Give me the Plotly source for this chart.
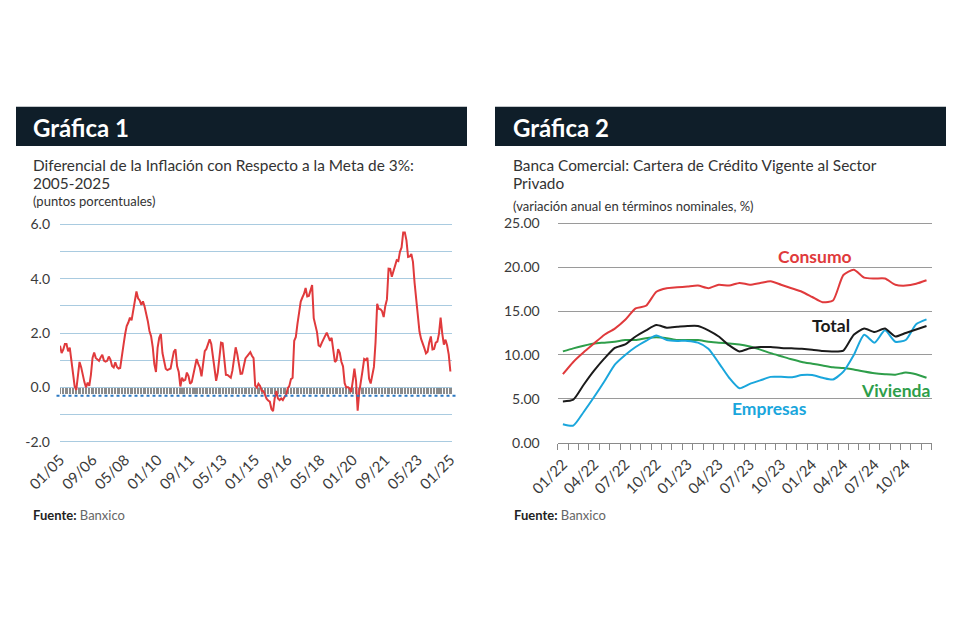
import plotly.graph_objects as go

# ---------------- Data: Gráfica 1 ----------------
# Diferencial de la inflación anual respecto a la meta de 3% (pp), mensual 01/2005 - 01/2025
diferencial = [
    1.54, 1.27, 1.39, 1.60, 1.60, 1.33, 1.47, 0.95, 0.51, 0.05, -0.09, 0.33,   # 2005
    0.94, 0.75, 0.41, 0.20, 0.00, 0.18, 0.06, 0.47, 1.09, 1.29, 1.09, 1.05,    # 2006
    0.98, 1.11, 1.21, 0.99, 0.95, 0.98, 1.14, 1.03, 0.79, 0.74, 0.93, 0.76,    # 2007
    0.70, 0.72, 1.25, 1.55, 1.95, 2.26, 2.39, 2.57, 2.47, 2.78, 3.23, 3.53,    # 2008
    3.28, 3.20, 3.04, 3.17, 2.98, 2.74, 2.44, 2.08, 1.89, 1.50, 0.86, 0.57,    # 2009
    1.46, 1.83, 1.97, 1.27, 0.92, 0.69, 0.64, 0.68, 0.70, 1.02, 1.32, 1.40,    # 2010
    0.78, 0.57, 0.04, 0.36, 0.25, 0.28, 0.55, 0.42, 0.14, 0.20, 0.48, 0.82,    # 2011
    1.05, 0.87, 0.73, 0.41, 0.85, 1.34, 1.42, 1.57, 1.77, 1.60, 1.18, 0.57,    # 2012
    0.25, 0.55, 1.25, 1.65, 1.63, 1.09, 0.47, 0.46, 0.39, 0.36, 0.62, 0.97,    # 2013
    1.48, 1.23, 0.76, 0.50, 0.51, 0.75, 1.07, 1.15, 1.22, 1.30, 1.17, 1.08,    # 2014
    0.07, 0.00, 0.14, 0.06, -0.12, -0.13, -0.26, -0.41, -0.48, -0.52, -0.79, -0.87,  # 2015
    -0.39, -0.13, -0.40, -0.46, -0.40, -0.46, -0.35, -0.27, -0.03, 0.06, 0.31, 0.36,  # 2016
    1.72, 1.86, 2.35, 2.82, 3.16, 3.31, 3.44, 3.66, 3.35, 3.37, 3.63, 3.77,    # 2017
    2.55, 2.34, 2.04, 1.55, 1.51, 1.65, 1.81, 1.90, 2.02, 1.90, 1.72, 1.83,    # 2018
    1.37, 0.94, 1.00, 1.41, 1.28, 0.95, 0.78, 0.16, 0.00, 0.02, -0.03, -0.17,  # 2019
    0.24, 0.70, 0.25, -0.85, -0.16, 0.33, 0.62, 1.05, 1.01, 1.09, 0.33, 0.15,  # 2020
    0.54, 0.76, 1.67, 3.08, 2.89, 2.88, 2.81, 2.59, 3.00, 3.24, 4.37, 4.36,    # 2021
    4.07, 4.28, 4.45, 4.68, 4.65, 4.99, 5.15, 5.70, 5.70, 5.41, 4.80, 4.82,    # 2022
    4.91, 4.62, 3.85, 3.25, 2.84, 2.06, 1.79, 1.64, 1.45, 1.26, 1.32, 1.66,    # 2023
    1.88, 1.40, 1.42, 1.65, 1.69, 1.98, 2.57, 1.99, 1.58, 1.76, 1.55, 1.21,    # 2024
    0.59,                                                                       # 2025
]
meses1 = list(range(len(diferencial)))
ticks1_labels = ["01/05", "09/06", "05/08", "01/10", "09/11", "05/13", "01/15",
                 "09/16", "05/18", "01/20", "09/21", "05/23", "01/25"]
ticks1_pos = [20 * k for k in range(len(ticks1_labels))]
y1_ticks = [-2, -1, 0, 1, 2, 3, 4, 5, 6]
y1_labels = ["-2.0", "", "0.0", "", "2.0", "", "4.0", "", "6.0"]
banda_inferior = -0.22   # franja sombreada bajo el cero
linea_punteada = -0.30   # línea de referencia punteada

# ---------------- Data: Gráfica 2 ----------------
consumo = [7.8, 9.2, 10.3, 11.3, 12.3, 13.0, 14.0, 15.3, 15.6, 17.2, 17.6, 17.7,
           17.8, 17.9, 17.6, 18.0, 17.9, 18.2, 18.0, 18.2, 18.4, 18.0, 17.6, 17.2,
           16.6, 16.0, 16.2, 19.1, 19.7, 18.8, 18.7, 18.7, 18.0, 17.9, 18.1, 18.5]
total = [4.7, 4.9, 6.6, 8.2, 9.6, 10.8, 11.2, 12.1, 12.8, 13.4, 13.1, 13.2,
         13.3, 13.3, 12.8, 12.1, 11.1, 10.4, 10.75, 10.9, 10.9, 10.8, 10.75, 10.7,
         10.6, 10.45, 10.4, 10.5, 12.3, 13.0, 12.6, 13.0, 12.1, 12.5, 12.9, 13.3]
empresas = [2.1, 1.95, 3.5, 5.2, 7.0, 8.9, 10.0, 10.9, 11.6, 12.2, 11.7, 11.6,
            11.6, 11.4, 10.7, 9.1, 7.4, 6.2, 6.7, 7.1, 7.5, 7.5, 7.45, 7.7,
            7.7, 7.4, 7.2, 8.1, 10.0, 12.3, 11.4, 12.8, 11.5, 11.7, 13.5, 14.05]
vivienda = [10.4, 10.75, 11.05, 11.3, 11.4, 11.5, 11.7, 11.7, 11.9, 12.0, 11.9, 11.7,
            11.7, 11.7, 11.5, 11.4, 11.3, 11.2, 10.95, 10.6, 10.2, 9.85, 9.5, 9.2,
            9.0, 8.8, 8.6, 8.5, 8.35, 8.1, 7.9, 7.8, 7.75, 8.0, 7.8, 7.4]
meses2 = list(range(len(consumo)))
ticks2_labels = ["01/22", "04/22", "07/22", "10/22", "01/23", "04/23", "07/23",
                 "10/23", "01/24", "04/24", "07/24", "10/24"]
ticks2_pos = [3 * k for k in range(len(ticks2_labels))]

# ---------------- Styles ----------------
FONT = "Lato"
C_RED = "#e03a3c"
C_BLACK = "#1b1b1b"
C_BLUE = "#1aa6dc"
C_GREEN = "#2e9e4a"
NAVY = "#0f1e29"

fig = go.Figure()

# Gráfica 1
band_x = meses1[::2]
fig.add_trace(go.Bar(x=band_x, y=[banda_inferior] * len(band_x), width=1.4,
                     marker=dict(color="#8a8a8a", line=dict(width=0)),
                     xaxis="x", yaxis="y", showlegend=False, hoverinfo="skip"))
fig.add_trace(go.Scatter(x=meses1, y=diferencial, mode="lines",
                         line=dict(color=C_RED, width=2),
                         xaxis="x", yaxis="y", showlegend=False))

# Gráfica 2
for serie, color in [(vivienda, C_GREEN), (empresas, C_BLUE), (consumo, C_RED), (total, C_BLACK)]:
    fig.add_trace(go.Scatter(x=meses2, y=serie, mode="lines",
                             line=dict(color=color, width=2, shape="spline", smoothing=0.6),
                             xaxis="x2", yaxis="y2", showlegend=False))

# The page body has an 8px margin; the figure is sized so that it ends at the window edge.
OFF = 8
W, H = 960 - 2 * OFF, 640 - 2 * OFF
def px(x):
    return (x - OFF) / W
def py(y):
    return 1 - (y - OFF) / H

fig.update_layout(
    width=W, height=H, autosize=False,
    margin=dict(l=0, r=0, t=0, b=0, pad=0, autoexpand=False),
    paper_bgcolor="white", plot_bgcolor="rgba(0,0,0,0)",
    font=dict(family=FONT, color="#3a3a3a", size=13),
    bargap=0,
    xaxis=dict(domain=[px(60), px(452)], range=[0, 241], anchor="y",
               tickmode="array", tickvals=ticks1_pos, ticktext=ticks1_labels,
               tickangle=-45, showgrid=False, zeroline=False, showline=False,
               ticks="", automargin=False,
               tickfont=dict(size=15, color="#3a3a3a", family=FONT)),
    yaxis=dict(domain=[py(447.4), py(218.9)], range=[-2.2, 6.2], anchor="x",
               tickmode="array", tickvals=y1_ticks, ticktext=y1_labels,
               showgrid=True, gridcolor="#a9cbe0", gridwidth=1, zeroline=False,
               showline=False, ticks="", ticklabelstandoff=9, automargin=False,
               tickfont=dict(size=14, color="#3a3a3a", family=FONT)),
    xaxis2=dict(domain=[px(557.7), px(931.7)], range=[-0.5, 35.5], anchor="y2",
                tickmode="array", tickvals=ticks2_pos, ticktext=ticks2_labels,
                tickangle=-45, showgrid=False, zeroline=False,
                showline=True, linecolor="#8a8a8a", linewidth=1,
                ticks="", ticklabelstandoff=6, automargin=False,
                minor=dict(tickmode="linear", tick0=-0.5, dtick=1, ticks="outside",
                           ticklen=6, tickcolor="#8a8a8a", tickwidth=1, showgrid=False),
                tickfont=dict(size=15, color="#3a3a3a", family=FONT)),
    yaxis2=dict(domain=[py(442.7), py(221.5)], range=[0, 25.2], anchor="x2",
                tickmode="linear", tick0=0, dtick=5, tickformat=".2f",
                showgrid=True, gridcolor="#9a9a9a", gridwidth=1, zeroline=False,
                showline=False, ticks="", ticklabelstandoff=17, automargin=False,
                tickfont=dict(size=14, color="#3a3a3a", family=FONT)),
)

shapes = [
    dict(type="rect", xref="paper", yref="paper", x0=px(16), x1=px(467),
         y0=py(146), y1=py(106.7), fillcolor=NAVY, line=dict(width=0), layer="below"),
    dict(type="rect", xref="paper", yref="paper", x0=px(495), x1=px(946),
         y0=py(146), y1=py(106.7), fillcolor=NAVY, line=dict(width=0), layer="below"),
    dict(type="line", xref="paper", yref="y", x0=px(56.5), x1=px(458),
         y0=linea_punteada, y1=linea_punteada,
         line=dict(color="#2b78c2", width=2, dash="dot"), layer="above"),
]
fig.update_layout(shapes=shapes)

ann = []
def text(x, y, s, size, color="#333333", bold=False, xanchor="left", yanchor="middle"):
    ann.append(dict(xref="paper", yref="paper", x=px(x), y=py(y), text=(f"<b>{s}</b>" if bold else s),
                    showarrow=False, xanchor=xanchor, yanchor=yanchor,
                    font=dict(family=FONT, size=size, color=color)))

text(31, 127.5, "Gráfica 1", 24, "white", bold=True)
text(510.5, 127.5, "Gráfica 2", 24, "white", bold=True)
text(31, 165, "Diferencial de la Inflación con Respecto a la Meta de 3%:", 15.4)
text(31, 183, "2005-2025", 15.4)
text(31, 201, "(puntos porcentuales)", 13)
text(510.5, 165, "Banca Comercial: Cartera de Crédito Vigente al Sector", 15.4)
text(510.5, 183, "Privado", 15.4)
text(510.5, 206, "(variación anual en términos nominales, %)", 13)
text(31, 515, "<b>Fuente:</b> <span style='color:#666666'>Banxico</span>", 13, "#222222")
text(512, 515, "<b>Fuente:</b> <span style='color:#666666'>Banxico</span>", 13, "#222222")

# series labels (data coords)
def lab(x, y, s, color, xanchor="center"):
    ann.append(dict(xref="x2", yref="y2", x=x, y=y, text=f"<b>{s}</b>", showarrow=False,
                    xanchor=xanchor, yanchor="middle",
                    font=dict(family=FONT, size=17.5, color=color)))
lab(24.3, 21.2, "Consumo", C_RED)
lab(25.8, 13.3, "Total", C_BLACK)
lab(19.9, 3.95, "Empresas", C_BLUE)
lab(35.5, 6.0, "Vivienda", C_GREEN, xanchor="right")

fig.update_layout(annotations=ann)
fig.write_html("out.html")
